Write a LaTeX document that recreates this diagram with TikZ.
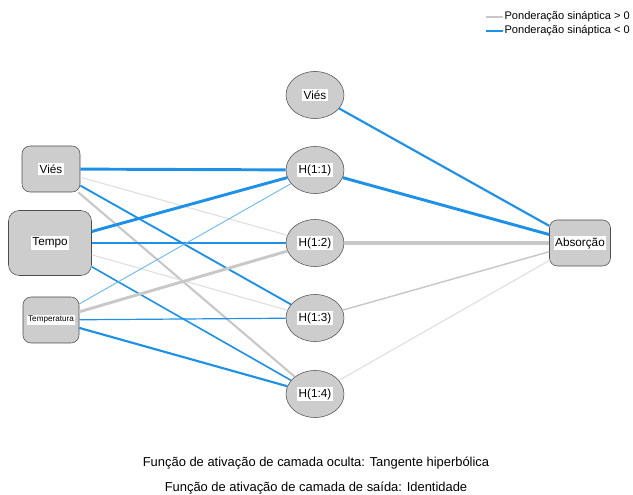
\documentclass[tikz,border=0pt]{standalone}
\usepackage{fontspec}
\setmainfont{Liberation Sans}
\tikzset{
  inbox/.style={draw=black!70,fill=boxgray,rounded corners=6,minimum width=58*0.75pt,minimum height=46*0.75pt,inner sep=0pt},
  hid/.style={draw=black!70,fill=boxgray,ellipse,minimum width=58*0.75pt,minimum height=47*0.75pt,inner sep=0pt},
  pos/.style={draw=wgray,line width=#1},
  neg/.style={draw=wblue,line width=#1},
}
\newcommand{\lab}[2][8.8pt]{\fontsize{#1}{#1}\selectfont\setlength\fboxsep{1pt}\colorbox{white}{#2}}
\usetikzlibrary{shapes.geometric}
\begin{document}
\begin{tikzpicture}[x=0.75pt,y=-0.75pt]
\definecolor{boxgray}{RGB}{205,205,205}
\definecolor{wgray}{RGB}{200,200,200}
\definecolor{lgray}{RGB}{222,222,222}
\definecolor{wblue}{RGB}{30,144,230}
\definecolor{lblue}{RGB}{110,185,240}
	\useasboundingbox (0,0) rectangle (633,495);
	% input layer
	\node[inbox] (vies) at (51,169){\lab{Viés}};
	\node[inbox,minimum width=83*0.75pt,minimum height=65*0.75pt,rounded corners=8] (tempo) at (50,243){\lab{Tempo}};
	\node[inbox,minimum width=56*0.75pt] (temp) at (51,320){\lab[6.1pt]{Temperatura}};
	% hidden layer
	\node[hid] (hvies) at (315,95){\lab{Viés}};
	\node[hid] (h11) at (315,170){\lab{H(1:1)}};
	\node[hid] (h12) at (315,243){\lab{H(1:2)}};
	\node[hid] (h13) at (315,318){\lab{H(1:3)}};
	\node[hid] (h14) at (315,394){\lab{H(1:4)}};
	% output
	\node[inbox,minimum width=61*0.75pt] (abs) at (580,243){\lab{Absorção}};
	% weights
	\draw[neg=2.2pt] (vies) -- (h11);
	\draw[draw=lgray,line width=0.8pt] (vies) -- (h12);
	\draw[neg=1.4pt] (vies) -- (h13);
	\draw[pos=1.6pt] (vies) -- (h14);
	\draw[neg=2.2pt] (tempo) -- (h11);
	\draw[neg=1pt] (tempo) -- (h12);
	\draw[draw=lgray,line width=0.8pt] (tempo) -- (h13);
	\draw[neg=1.2pt] (tempo) -- (h14);
	\draw[draw=lblue,line width=0.7pt] (temp) -- (h11);
	\draw[pos=2.2pt] (temp) -- (h12);
	\draw[neg=0.9pt] (temp) -- (h13);
	\draw[neg=1.6pt] (temp) -- (h14);
	\draw[neg=1.6pt] (hvies) -- (abs);
	\draw[neg=2.2pt] (h11) -- (abs);
	\draw[pos=2.4pt] (h12) -- (abs);
	\draw[pos=1.1pt] (h13) -- (abs);
	\draw[draw=lgray,line width=0.8pt] (h14) -- (abs);
	% legend
	\coordinate (g1) at (486,17); \coordinate (g2) at (503,17);
	\coordinate (b1) at (486,31); \coordinate (b2) at (503,31);
	\draw[pos=2.2pt] (g1) -- (g2);
	\draw[neg=2.2pt] (b1) -- (b2);
	\node[right,inner sep=1pt,font=\fontsize{8.3pt}{8.3pt}\selectfont] (lpos) at (g2){Ponderação sináptica > 0};
	\node[right,inner sep=1pt,font=\fontsize{8.3pt}{8.3pt}\selectfont] (lneg) at (b2){Ponderação sináptica < 0};
	% notes
	\node[font=\fontsize{9.7pt}{9.7pt}\selectfont] (n1) at (316,463){Função de ativação de camada oculta: Tangente hiperbólica};
	\node[font=\fontsize{9.7pt}{9.7pt}\selectfont] (n2) at (316,488){Função de ativação de camada de saída: Identidade};
\end{tikzpicture}
\end{document}
